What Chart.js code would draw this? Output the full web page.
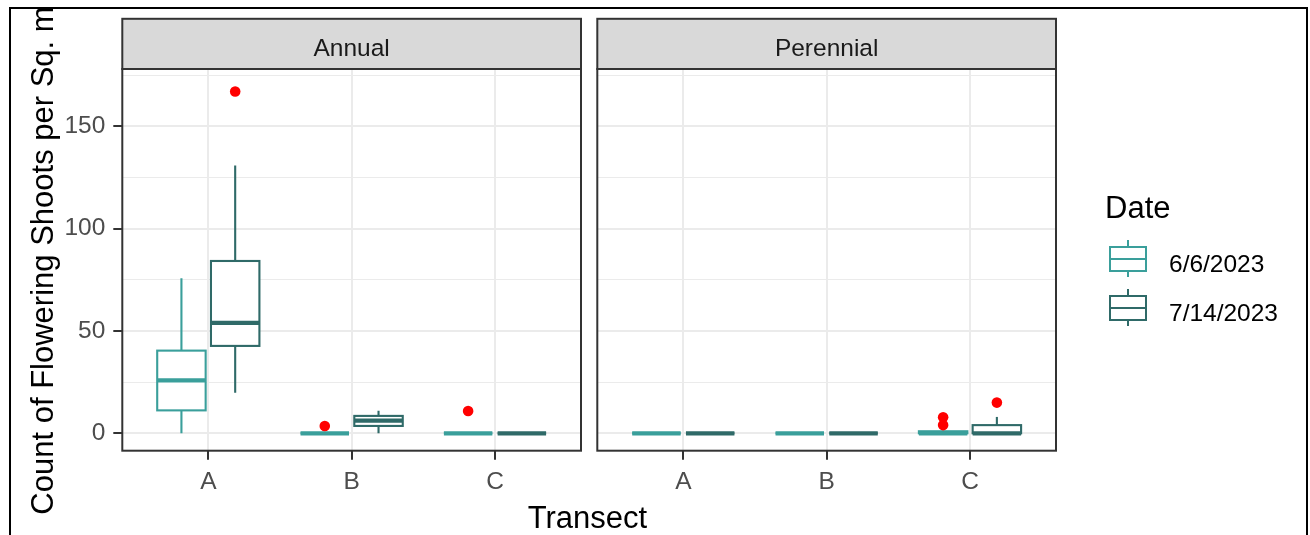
<!DOCTYPE html>
<html>
<head>
<meta charset="utf-8">
<script src="https://cdn.jsdelivr.net/npm/chart.js@4.4.1/dist/chart.umd.min.js"></script>
<style>
  html, body { margin: 0; padding: 0; background: #fff; width: 1310px; height: 535px; overflow: hidden;
    font-family: "Liberation Sans", Arial, sans-serif; }
  canvas { position: absolute; top: 0; }
  #frame { position: absolute; left: 9px; top: 7px; width: 1299px; height: 560px; box-sizing: border-box;
    border: 2px solid #000; border-bottom: none; pointer-events: none; }
  #yclip { position: absolute; left: 11px; top: 9px; width: 70px; height: 526px; overflow: hidden; }
  #ytitle { position: absolute; left: -269.5px; top: 235.5px; width: 600px; height: 31px; line-height: 31px;
    font-size: 31px; text-align: center; white-space: nowrap; color: #000; transform: rotate(-90deg); }
  #xtitle { position: absolute; left: 387.5px; top: 502px; width: 400px; height: 31px; line-height: 31px;
    font-size: 31px; text-align: center; color: #000; }
  .ltitle { position: absolute; left: 1105px; top: 192px; font-size: 31px; line-height: 31px; color: #000; }
  .llabel { position: absolute; left: 1169px; font-size: 24.5px; line-height: 25px; color: #000; white-space: nowrap; }
  .key { position: absolute; left: 1109px; width: 38px; height: 37px; }
  .key .wh { position: absolute; left: 18px; top: 0; width: 2px; height: 37px; }
  .key .bx { position: absolute; left: 0; top: 5.7px; width: 38px; height: 26px; box-sizing: border-box;
    background: #fff; border: 2px solid; }
  .key .md { position: absolute; left: 0; top: 18px; width: 38px; height: 2px; }
</style>
</head>
<body>
<canvas id="annual" width="600" height="535" style="left:0px"></canvas>
<canvas id="perennial" width="720" height="535" style="left:590px"></canvas>
<div id="yclip"><div id="ytitle">Count of Flowering Shoots per Sq. m</div></div>
<div id="xtitle">Transect</div>
<div id="legend"></div>
<div id="frame"></div>
<script>
// categories and groups
const transects = ['A', 'B', 'C'];
const dates = ['6/6/2023', '7/14/2023'];
const dateColors = ['#3A9F9B', '#2F6A68'];
const facets = ['Annual', 'Perennial'];

// y axis ticks
const yMajorTicks = [0, 50, 100, 150];
const yMinorTicks = [25, 75, 125, 175];

// five-number summaries per transect A, B, C: [min, q1, median, q3, max]
const annual0606 = [[0, 11.2, 25.9, 40.4, 75.7], [0, 0, 0, 0, 0], [0, 0, 0, 0, 0]];
const annual0714 = [[19.8, 42.7, 54.0, 84.2, 130.9], [0, 3.6, 6.2, 8.5, 11.0], [0, 0, 0, 0, 0]];
const perennial0606 = [[0, 0, 0, 0, 0], [0, 0, 0, 0, 0], [0, 0, 0, 1, 1]];
const perennial0714 = [[0, 0, 0, 0, 0], [0, 0, 0, 0, 0], [0, 0, 0, 4, 8]];

// outliers: [transect, value]
const annualOut0606 = [['B', 3.6], ['C', 10.9]];
const annualOut0714 = [['A', 167]];
const perennialOut0606 = [['C', 4.0], ['C', 7.8]];
const perennialOut0714 = [['C', 15.0]];

const DODGE = 0.1875;   // half of dodge slot (width 0.75 / 2 groups)
const HALF_W = 0.169;   // half box width after 10% padding
const Y_MIN = -8.5, Y_MAX = 178;

Chart.defaults.font.family = '"Liberation Sans", Arial, sans-serif';

function boxPlugin(groups) {
  return {
    id: 'boxes',
    beforeDatasetsDraw(chart) {
      const { ctx, scales: { x, y } } = chart;
      ctx.save();
      groups.forEach((stats, d) => {
        const color = dateColors[d];
        const off = d === 0 ? -DODGE : DODGE;
        stats.forEach((s, i) => {
          const [mn, q1, md, q3, mx] = s;
          const cx = x.getPixelForValue(i + 1 + off);
          const l = x.getPixelForValue(i + 1 + off - HALF_W);
          const r = x.getPixelForValue(i + 1 + off + HALF_W);
          ctx.strokeStyle = color;
          ctx.lineWidth = 2.1;
          ctx.beginPath();
          ctx.moveTo(cx, y.getPixelForValue(q3));
          ctx.lineTo(cx, y.getPixelForValue(mx));
          ctx.moveTo(cx, y.getPixelForValue(q1));
          ctx.lineTo(cx, y.getPixelForValue(mn));
          ctx.stroke();
          const top = y.getPixelForValue(q3), bot = y.getPixelForValue(q1);
          ctx.fillStyle = '#fff';
          ctx.fillRect(l, top, r - l, bot - top);
          ctx.strokeRect(l, top, r - l, bot - top);
          ctx.lineWidth = 4.2;
          ctx.beginPath();
          ctx.moveTo(l, y.getPixelForValue(md));
          ctx.lineTo(r, y.getPixelForValue(md));
          ctx.stroke();
        });
      });
      ctx.restore();
    }
  };
}

function stripPlugin(label) {
  return {
    id: 'strip',
    afterDraw(chart) {
      const { ctx, chartArea: a } = chart;
      ctx.save();
      // panel border
      ctx.strokeStyle = '#333333';
      ctx.lineWidth = 2;
      ctx.strokeRect(a.left, a.top, a.right - a.left, a.bottom - a.top);
      // strip
      const sTop = a.top - 50.2;
      ctx.fillStyle = '#D9D9D9';
      ctx.fillRect(a.left, sTop, a.right - a.left, 50.2);
      ctx.strokeRect(a.left, sTop, a.right - a.left, 50.2);
      ctx.fillStyle = '#1A1A1A';
      ctx.font = '24.5px "Liberation Sans", Arial, sans-serif';
      ctx.textAlign = 'center';
      ctx.textBaseline = 'alphabetic';
      ctx.fillText(label, (a.left + a.right) / 2, a.top - 12.7);
      ctx.restore();
    }
  };
}

function outlierData(list) {
  return list.map(([t, v]) => ({ x: transects.indexOf(t) + 1, y: v }));
}

function makeChart(id, label, groups, outs, showY, yWidth, padRight) {
  const datasets = outs.map((list, d) => ({
    data: outlierData(list).map(p => ({ x: p.x + (d === 0 ? -DODGE : DODGE), y: p.y })),
    pointRadius: 5.3,
    pointBackgroundColor: '#FF0000',
    pointBorderWidth: 0,
    showLine: false
  }));
  return new Chart(document.getElementById(id), {
    type: 'scatter',
    data: { datasets },
    options: {
      responsive: false,
      animation: false,
      events: [],
      layout: { padding: { top: 69, right: padRight, left: 0, bottom: 0 } },
      plugins: { legend: { display: false }, tooltip: { enabled: false } },
      scales: {
        x: {
          type: 'linear', min: 0.4, max: 3.6,
          afterBuildTicks: s => { s.ticks = transects.map((t, i) => ({ value: i + 1 })); },
          afterFit: s => { s.height = 84.3; },
          border: { display: false },
          grid: { color: '#EBEBEB', lineWidth: 2, tickLength: 9, tickColor: '#333333', tickWidth: 2 },
          ticks: { autoSkip: false, maxRotation: 0, padding: 8, color: '#4D4D4D', font: { size: 24.5 },
            callback: v => transects[v - 1] || '' }
        },
        y: {
          type: 'linear', min: Y_MIN, max: Y_MAX,
          afterBuildTicks: s => { s.ticks = [...yMajorTicks, ...yMinorTicks].sort((a, b) => a - b).map(v => ({ value: v })); },
          afterFit: s => { s.width = yWidth; },
          border: { display: false },
          grid: {
            color: '#EBEBEB',
            lineWidth: c => (c.tick && yMajorTicks.includes(c.tick.value)) ? 2 : 1,
            drawTicks: showY,
            tickLength: 9,
            tickWidth: 2,
            tickColor: c => (c.tick && yMajorTicks.includes(c.tick.value)) ? '#333333' : 'rgba(0,0,0,0)'
          },
          ticks: { display: showY, autoSkip: false, padding: 8, color: '#4D4D4D', font: { size: 24.5 },
            callback: v => yMajorTicks.includes(v) ? String(v) : '' }
        }
      }
    },
    plugins: [boxPlugin(groups), stripPlugin(label)]
  });
}

makeChart('annual', facets[0], [annual0606, annual0714], [annualOut0606, annualOut0714], true, 122.3, 19);
makeChart('perennial', facets[1], [perennial0606, perennial0714], [perennialOut0606, perennialOut0714], false, 7.3, 254);

// legend
const legend = document.getElementById('legend');
legend.innerHTML = '<div class="ltitle">Date</div>';
dates.forEach((d, i) => {
  const top = 240 + i * 49;
  const c = dateColors[i];
  legend.innerHTML +=
    `<div class="key" style="top:${top}px"><div class="wh" style="background:${c}"></div>` +
    `<div class="bx" style="border-color:${c}"></div><div class="md" style="background:${c}"></div></div>` +
    `<div class="llabel" style="top:${top + 11.3}px">${d}</div>`;
});
</script>
</body>
</html>
